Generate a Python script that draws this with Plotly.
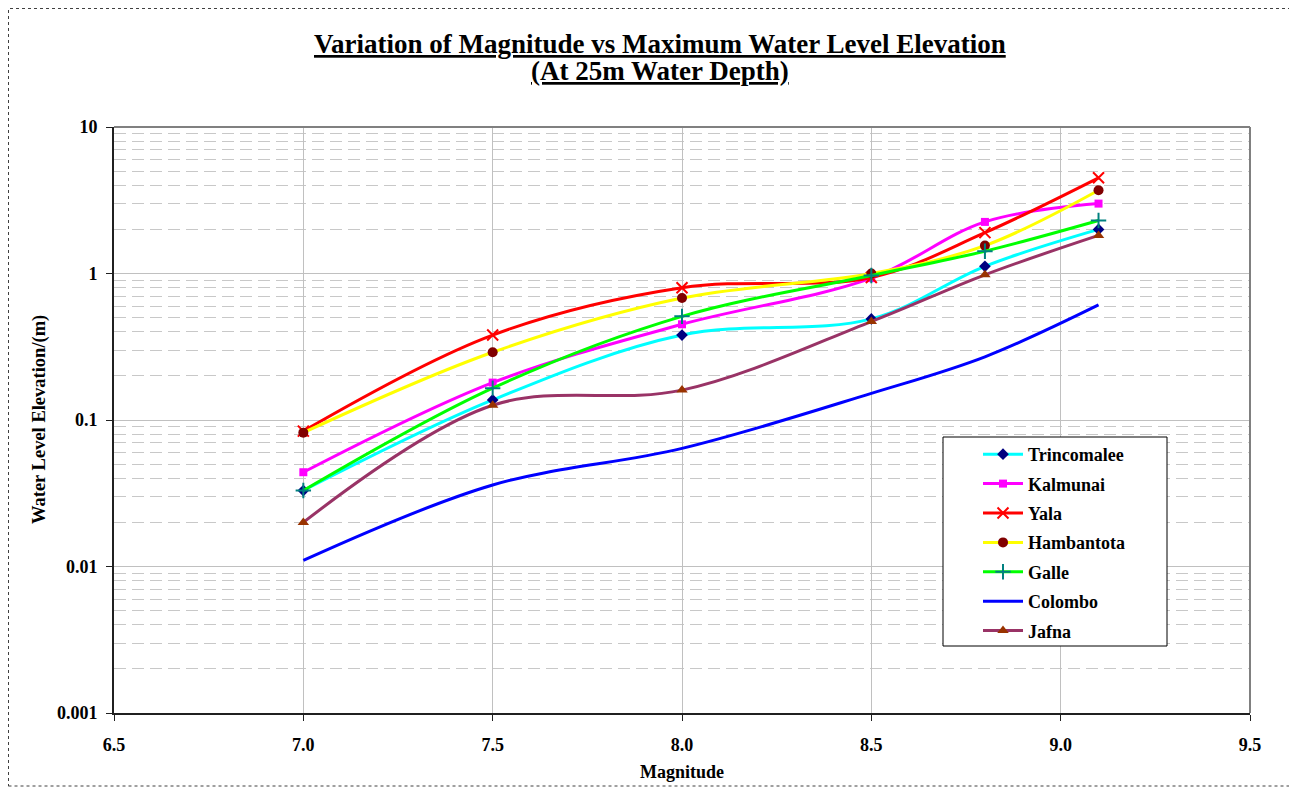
import plotly.graph_objects as go

magnitude = [7.0, 7.5, 8.0, 8.5, 8.8, 9.1]

series_names = ["Trincomalee", "Kalmunai", "Yala", "Hambantota", "Galle", "Colombo", "Jafna"]

trincomalee = [0.033, 0.137, 0.38, 0.49, 1.12, 2.0]
kalmunai = [0.044, 0.18, 0.45, 0.93, 2.25, 3.0]
yala = [0.084, 0.38, 0.80, 0.94, 1.9, 4.5]
hambantota = [0.082, 0.29, 0.68, 1.0, 1.55, 3.7]
galle = [0.033, 0.165, 0.51, 0.97, 1.42, 2.3]
colombo = [0.011, 0.036, 0.064, 0.152, 0.27, 0.61]
jafna = [0.020, 0.126, 0.16, 0.47, 0.98, 1.82]

y_tick_values = [0.001, 0.01, 0.1, 1, 10]
y_tick_labels = ["0.001", "0.01", "0.1", "1", "10"]

title_line1 = "Variation of Magnitude vs Maximum Water Level Elevation"
title_line2 = "(At 25m Water Depth)"
x_title = "Magnitude"
y_title = "Water Level Elevation/(m)"

series_values = [trincomalee, kalmunai, yala, hambantota, galle, colombo, jafna]
line_colors = ["#00FFFF", "#FF00FF", "#FF0000", "#FFFF00", "#00FF00", "#0000FF", "#993366"]
marker_colors = ["#000080", "#FF00FF", "#FF0000", "#800000", "#008080", "#0000FF", "#993300"]
marker_symbols = ["diamond", "square", "x-thin", "circle", "cross-thin", None, "triangle-up"]
marker_sizes = [9, 8, 11, 10, 11, 0, 10]

FONT = "Liberation Serif, Times New Roman, serif"

fig = go.Figure()
for i, (name, vals) in enumerate(zip(series_names, series_values)):
    sym = marker_symbols[i]
    mode = "lines+markers" if sym else "lines"
    mk = dict(color=marker_colors[i], size=marker_sizes[i])
    if sym:
        mk["symbol"] = sym
        if "thin" in sym:
            mk["line"] = dict(color=marker_colors[i], width=2)
    fig.add_trace(go.Scatter(
        x=magnitude, y=vals, name=name, mode=mode,
        line=dict(color=line_colors[i], width=3, shape="spline", smoothing=1.0),
        marker=mk, legendgroup=name,
    ))

# page is offset by 8px body margin; work in page pixels and convert
OFF = 8
W, H = 1297 - OFF, 787 - OFF
PL, PR, PT, PB = 114, 1250, 127, 713  # plot area in page pixels
ml = PL - OFF
mt = PT - OFF
pw = PR - PL
ph = PB - PT
mr = W - ml - pw
mb = H - mt - ph


def px(xp):
    return (xp - OFF - ml) / pw


def py(yp):
    return (H - mb - (yp - OFF)) / ph


fig.update_layout(
    width=W, height=H,
    margin=dict(l=ml, r=mr, t=mt, b=mb),
    paper_bgcolor="white", plot_bgcolor="white",
    font=dict(family=FONT, color="black", size=18),
    showlegend=True,
    xaxis=dict(
        range=[6.5, 9.5], dtick=0.5, tick0=6.5, tickformat=".1f",
        showgrid=True, gridcolor="#C0C0C0", gridwidth=1,
        showline=True, linecolor="#202020", linewidth=2,
        ticks="outside", ticklen=6, tickcolor="#202020", ticklabelstandoff=8,
        tickfont=dict(family=FONT, size=18, color="black", weight="bold"),
        zeroline=False,
    ),
    yaxis=dict(
        type="log", range=[-3, 1],
        tickvals=y_tick_values, ticktext=y_tick_labels,
        showgrid=True, gridcolor="#C0C0C0", gridwidth=1,
        minor=dict(showgrid=True, gridcolor="#C8C8C8", griddash="12px,6px", dtick="D1"),
        showline=True, linecolor="#202020", linewidth=2,
        ticks="outside", ticklen=6, tickcolor="#202020", ticklabelstandoff=5,
        tickfont=dict(family=FONT, size=18, color="black", weight="bold"),
        zeroline=False,
    ),
    legend=dict(
        x=px(978), y=py(436), xanchor="left", yanchor="top",
        bgcolor="rgba(0,0,0,0)", borderwidth=0,
        font=dict(family=FONT, size=18, color="black", weight="bold"),
        traceorder="grouped", tracegroupgap=3, itemwidth=40,
    ),
    annotations=[
        dict(text="<b><u>" + title_line1 + "</u></b>", xref="paper", yref="paper",
             x=px(660), y=py(44), xanchor="center", yanchor="middle", showarrow=False,
             font=dict(family=FONT, size=27, color="black")),
        dict(text="<b><u>" + title_line2 + "</u></b>", xref="paper", yref="paper",
             x=px(660), y=py(71), xanchor="center", yanchor="middle", showarrow=False,
             font=dict(family=FONT, size=27, color="black")),
        dict(text="<b>" + x_title + "</b>", xref="paper", yref="paper",
             x=px(682), y=py(772), xanchor="center", yanchor="middle", showarrow=False,
             font=dict(family=FONT, size=18, color="black")),
        dict(text="<b>" + y_title + "</b>", xref="paper", yref="paper", textangle=-90,
             x=px(39), y=py(420), xanchor="center", yanchor="middle", showarrow=False,
             font=dict(family=FONT, size=18.5, color="black")),
    ],
    shapes=[
        dict(type="line", xref="paper", yref="paper", x0=0, x1=1, y0=1, y1=1,
             line=dict(color="#808080", width=2)),
        dict(type="line", xref="paper", yref="paper", x0=1, x1=1, y0=0, y1=1,
             line=dict(color="#808080", width=2)),
        dict(type="rect", xref="paper", yref="paper",
             x0=px(943), x1=px(1167), y0=py(646), y1=py(437),
             line=dict(color="black", width=1), fillcolor="white", layer="above"),
        dict(type="rect", xref="paper", yref="paper",
             x0=px(OFF + 0.5), x1=px(1293), y0=py(787 - 1), y1=py(OFF + 0.5),
             line=dict(color="#404040", width=1, dash="dot"), layer="below"),
    ],
)

fig.write_html("out.html")
